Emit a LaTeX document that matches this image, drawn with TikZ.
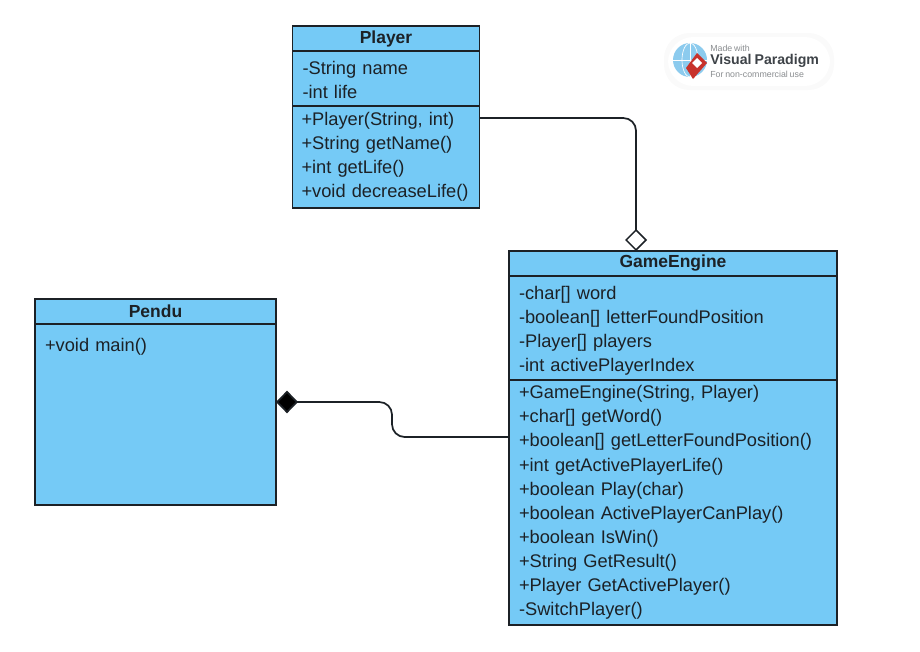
\documentclass[tikz,border=0pt]{standalone}
\usepackage{fontspec}
\setmainfont[WordSpace=0.75]{Liberation Sans}
\usetikzlibrary{positioning,arrows.meta}
\definecolor{classblue}{HTML}{75CAF6}
\definecolor{lineblack}{HTML}{1C2126}
\definecolor{badgegray}{HTML}{8A8D90}
\definecolor{badgedark}{HTML}{3E4348}
\definecolor{badgered}{HTML}{C8322B}
\definecolor{globeblue}{HTML}{8CCBEE}
\tikzset{
	classpart/.style={draw=lineblack,fill=classblue,line width=.85pt,outer sep=0pt,inner xsep=7.5pt,inner ysep=0pt,
		align=left,text=lineblack,font=\fontsize{13.7}{18.1}\selectfont},
	classattrs/.style={classpart,execute at begin node={\leavevmode\rule{0pt}{#1}}},
	classtitle/.style={classpart,align=center,font=\fontsize{13.1}{14}\selectfont\bfseries,minimum height=18.75pt},
	assoc/.style={draw=lineblack,line width=1.3pt,rounded corners=9.5pt},
}
\begin{document}
\begin{tikzpicture}[x=.75pt,y=-.75pt]
	\useasboundingbox (0,0) rectangle (920,651);
	% badge
	\fill[black!2,rounded corners=19pt] (664,33) rectangle (834,90);
	\fill[white,rounded corners=19pt] (668,37) rectangle (830,86);
	\fill[globeblue] (690,60) circle (17);
	\draw[white,line width=.5pt] (690,43) -- (690,77);
	\draw[white,line width=.5pt] (673,60) -- (707,60);
	\draw[white,line width=.5pt] (690,60) ellipse (8 and 17);
	\fill[badgered] (697,53) -- (707,63) -- (693,79) -- (686,68) -- cycle;
	\fill[white] (697,58) -- (702,63) -- (697,68) -- (692,63) -- cycle;
	\node (badgemade) [anchor=west,inner sep=0pt,text=badgegray,font=\fontsize{6.6}{7}\selectfont] at (710,48) {Made with};
	\node (badgename) [anchor=west,inner sep=0pt,text=badgedark,font=\fontsize{10.6}{12}\selectfont\bfseries] at (710,61) {Visual Paradigm};
	\node (badgeuse) [anchor=west,inner sep=0pt,text=badgegray,font=\fontsize{6.6}{7}\selectfont] at (710,74) {For non-commercial use};
	% Player
	\node (playerTitle) [classtitle,text width=125.25pt,anchor=north west] at (292.5,26) {Player};
	\node (playerAttrs) [classattrs=12.5pt,text width=125.25pt,minimum height=41.25pt,below=0pt of playerTitle] {-String name\\-int life};
	\node (playerOps) [classpart,inner xsep=6.75pt,text width=126.75pt,minimum height=76.5pt,below=0pt of playerAttrs] {+Player(String, int)\\+String getName()\\+int getLife()\\+void decreaseLife()};
	% GameEngine
	\node (gameTitle) [classtitle,text width=231pt,anchor=north west] at (509,251) {GameEngine};
	\node (gameAttrs) [classattrs=14.5pt,text width=231pt,minimum height=78pt,below=0pt of gameTitle] {-char[] word\\-boolean[] letterFoundPosition\\-Player[] players\\-int activePlayerIndex};
	\node (gameOps) [classpart,text width=231pt,minimum height=183.75pt,below=0pt of gameAttrs] {+GameEngine(String, Player)\\+char[] getWord()\\+boolean[] getLetterFoundPosition()\\+int getActivePlayerLife()\\+boolean Play(char)\\+boolean ActivePlayerCanPlay()\\+boolean IsWin()\\+String GetResult()\\+Player GetActivePlayer()\\-SwitchPlayer()};
	% Pendu
	\node (penduTitle) [classtitle,text width=165.75pt,anchor=north west] at (35,299) {Pendu};
	\node (penduOps) [classpart,text width=165.75pt,text height=20.5pt,text depth=115.25pt,below=0pt of penduTitle] {+void main()};
	% links
	\draw[assoc,-{Diamond[open,fill=white,length=16.5pt,width=16.5pt,line width=1.1pt]}] ([yshift=-9pt]playerOps.north east) -| ([xshift=-27.75pt]gameTitle.north);
	\coordinate (bend) at (392,402);
	\draw[assoc,-{Diamond[fill=black,length=16.5pt,width=17pt]}] ([yshift=-42.75pt]gameOps.north west) -| (bend) -- ([yshift=9.4pt]penduOps.east);
\end{tikzpicture}
\end{document}
